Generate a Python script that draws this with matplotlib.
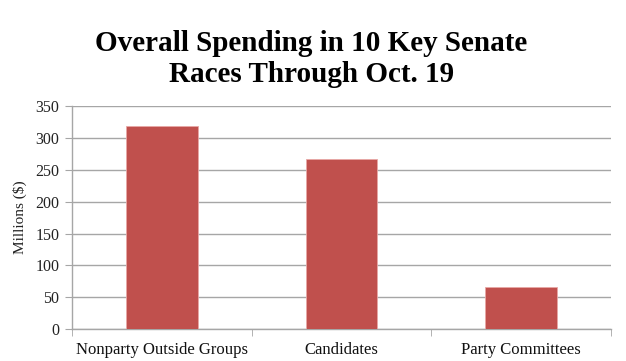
import matplotlib
matplotlib.use("Agg")
import matplotlib.pyplot as plt
import numpy as np

categories = ["Nonparty Outside Groups", "Candidates", "Party Committees"]
values = [318, 267, 67]
yticks = [0, 50, 100, 150, 200, 250, 300, 350]

fig = plt.figure(figsize=(6.26, 3.61), dpi=100)
ax = fig.add_axes([0.115, 0.0878, 0.861, 0.619])

x = np.arange(len(categories))
ax.bar(x, values, width=0.4, color="#C0504D", edgecolor="#E8A8A6", linewidth=0.6, zorder=3)

ax.set_xlim(-0.5, 2.5)
ax.set_ylim(0, 350)
ax.set_yticks(yticks)
ax.set_yticklabels([str(t) for t in yticks], fontfamily="Liberation Serif", fontsize=11.5, color="#222222")
ax.yaxis.grid(True, color="#A6A6A6", linewidth=1.0, zorder=0)
ax.set_axisbelow(True)

ax.set_xticks(x)
ax.set_xticklabels(categories, fontfamily="Liberation Serif", fontsize=12, color="#111111")
ax.set_xticks([-0.5, 0.5, 1.5, 2.5], minor=True)
ax.tick_params(axis="x", which="major", length=0, pad=9)
ax.tick_params(axis="x", which="minor", length=5, color="#A6A6A6", direction="out")
ax.tick_params(axis="y", length=5, color="#A6A6A6", direction="out", pad=4)

for s in ["top", "right"]:
    ax.spines[s].set_visible(False)
for s in ["left", "bottom"]:
    ax.spines[s].set_color("#A6A6A6")
    ax.spines[s].set_linewidth(1.0)

ax.set_ylabel("Millions ($)", fontfamily="Liberation Serif", fontsize=11, color="#222222", labelpad=6)

fig.text(0.497, 0.836, "Overall Spending in 10 Key Senate\nRaces Through Oct. 19",
         ha="center", va="center", fontfamily="Liberation Serif", fontweight="bold",
         fontsize=21, linespacing=1.2)

fig.savefig("out.png", dpi=100)
